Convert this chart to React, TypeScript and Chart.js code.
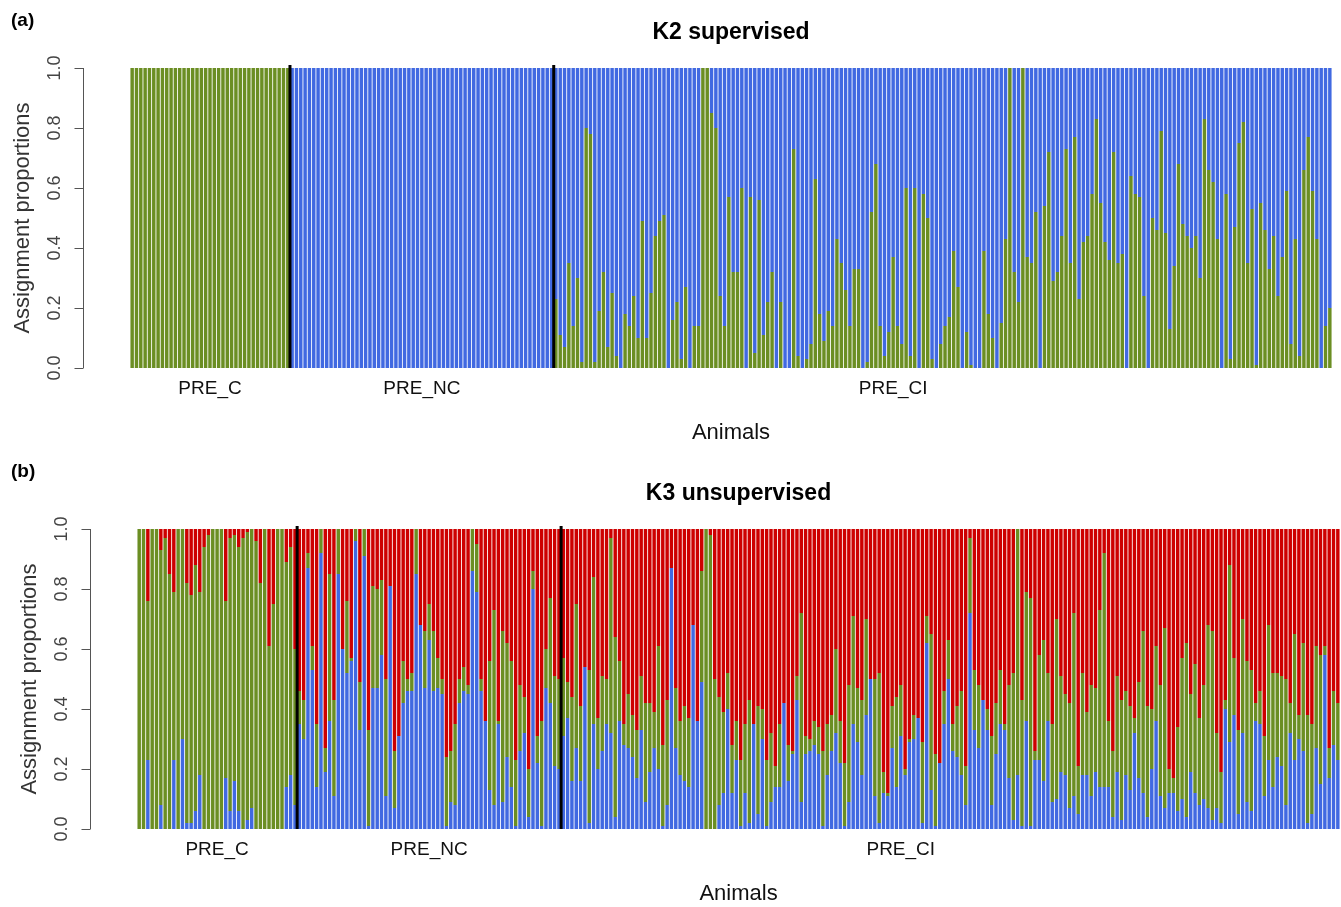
import React, { useEffect, useRef } from "react";
import { Chart, registerables } from "chart.js";

Chart.register(...registerables);

// ---------- data ----------
const groupNames = ["PRE_C", "PRE_NC", "PRE_CI"];
const groupLabelAt = [18, 67, 176]; // animal index under which each group name sits
const yTicks = [0, 0.2, 0.4, 0.6, 0.8, 1.0];

// K2 supervised: green (cluster 1) proportion per animal; blue is the rest
const k2GreenC = [1, 1, 1, 1, 1, 1, 1, 1, 1, 1, 1, 1, 1, 1, 1, 1, 1, 1, 1, 1, 1, 1, 1, 1, 1, 1, 1, 1, 1, 1, 1, 1, 1, 1, 1, 1, 1];
const k2GreenNC = [0, 0, 0, 0, 0, 0, 0, 0, 0, 0, 0, 0, 0, 0, 0, 0, 0, 0, 0, 0, 0, 0, 0, 0, 0, 0, 0, 0, 0, 0, 0, 0, 0, 0, 0, 0, 0, 0, 0, 0, 0, 0, 0, 0, 0, 0, 0, 0, 0, 0, 0, 0, 0, 0, 0, 0, 0, 0, 0, 0, 0];
const k2GreenCI = [
  0.23, 0.11, 0.07, 0.35, 0.14, 0.30, 0.02, 0.80, 0.78, 0.02,
  0.19, 0.32, 0.07, 0.25, 0.04, 0.0, 0.18, 0.14, 0.24, 0.10,
  0.49, 0.10, 0.25, 0.44, 0.49, 0.51, 0.0, 0.16, 0.22, 0.03,
  0.27, 0.0, 0.14, 0.14, 1.0, 1.0, 0.85, 0.80, 0.24, 0.14,
  0.57, 0.32, 0.32, 0.60,
  0.0, 0.57, 0.05, 0.56, 0.11, 0.22, 0.32, 0.0, 0.22, 0.0,
  0.0, 0.73, 0.04, 0.0, 0.03, 0.08, 0.63, 0.18, 0.09, 0.19,
  0.14, 0.43, 0.35, 0.26, 0.14, 0.33, 0.33, 0.0, 0.02, 0.52,
  0.68, 0.14, 0.04, 0.12, 0.37, 0.14, 0.08, 0.60, 0.04, 0.60,
  0.0, 0.58, 0.50, 0.03, 0.0,
  0.08, 0.14, 0.17, 0.39, 0.27, 0.0, 0.12, 0.01, 0.0, 0.0,
  0.39, 0.18, 0.10, 0.0, 0.15, 0.43, 1.0, 0.32, 0.22, 1.0,
  0.37, 0.35, 0.52, 0.0, 0.54, 0.72, 0.29, 0.32, 0.44, 0.73,
  0.35, 0.77, 0.23, 0.42, 0.44, 0.58, 0.83, 0.55, 0.42, 0.36,
  0.72, 0.35, 0.38, 0.0, 0.64,
  0.58, 0.57, 0.24, 0.0, 0.50, 0.46, 0.79, 0.45, 0.13, 0.34,
  0.68, 0.48, 0.44, 0.40, 0.44, 0.30, 0.83, 0.66, 0.62, 0.43,
  0.0, 0.58, 0.03, 0.47, 0.75, 0.82, 0.35, 0.53, 0.01, 0.55,
  0.46, 0.33, 0.44, 0.24, 0.37, 0.59, 0.08, 0.43, 0.04, 0.66,
  0.77, 0.59, 0.43, 0.0, 0.14, 0.20,
];

// K3 unsupervised: blue proportion (bottom of each bar) and red proportion (top); green is between
const k3BlueC = [
  0, 0, 0.23, 0, 0, 0.08, 0, 0, 0.23, 0,
  0.30, 0.02, 0.02, 0.06, 0.18, 0, 0, 0, 0, 0,
  0.17, 0.06, 0.16, 0.06, 0, 0.03, 0.07, 0, 0, 0,
  0, 0, 0, 0, 0.14, 0.18, 0.08,
];
const k3RedC = [
  0, 0, 0.24, 0, 0, 0.07, 0.03, 0.15, 0.21, 0,
  0, 0.18, 0.22, 0.12, 0.21, 0.06, 0.02, 0, 0, 0,
  0.24, 0.03, 0.02, 0.06, 0.03, 0.01, 0, 0.04, 0.18, 0,
  0.39, 0.25, 0, 0, 0.11, 0.06, 0.40,
];
const k3BlueNC = [
  0.35, 0.30, 0.87, 0.53, 0.14, 0.92, 0.19,
  0.36, 0.11, 0.85, 0.60, 0.52, 0.56, 0.96, 0.33, 0.91, 0.01,
  0.47, 0.47, 0.58, 0.11, 0.81, 0.07, 0.31, 0.42, 0.46, 0.46,
  0.85, 0.68, 0.47, 0.63, 0.46, 0.47, 0.45, 0.01, 0.09, 0.08,
  0.42, 0.46, 0.45, 0.86, 0.79, 0.46, 0.36, 0.13, 0.08, 0.35,
  0.09, 0.24, 0.14, 0.01, 0.26,
  0.32, 0.04, 0.80, 0.22, 0.01, 0.47, 0.42, 0.21, 0.20,
];
const k3RedNC = [
  0.54, 0.57, 0.08, 0.39, 0.65, 0, 0.73,
  0.15, 0.57, 0, 0.40, 0.24, 0.43, 0, 0.51, 0, 0.67,
  0.19, 0.20, 0.17, 0.50, 0.19, 0.74, 0.69, 0.44, 0.50, 0.48,
  0, 0.32, 0.34, 0.25, 0.34, 0.43, 0.50, 0.76, 0.74, 0.65,
  0.50, 0.46, 0.52, 0, 0.05, 0.50, 0.64, 0.44, 0.27, 0.64,
  0.34, 0.38, 0.44, 0.77, 0.52,
  0.56, 0.80, 0.14, 0.69, 0.64, 0.40, 0.23, 0.49, 0.50,
];
const k3BlueCI = [
  0.31, 0.37, 0.16, 0.27, 0.16, 0.54, 0.02, 0.35, 0.20, 0.26,
  0.35, 0.32, 0.04, 0.36, 0.28, 0.27, 0.24, 0.17, 0.33, 0.09,
  0.19, 0.27, 0.20, 0.01, 0.08, 0.87, 0.27, 0.18, 0.16, 0.14,
  0.68, 0.36, 0.49, 0, 0, 0,
  0.08, 0.12, 0.40, 0.12, 0.23, 0.01, 0.12, 0.02, 0.35, 0.05,
  0.30, 0.01, 0.09, 0.14, 0.14, 0.42, 0.16, 0.25, 0.43, 0.09,
  0.25, 0.26, 0.28, 0.25, 0.01, 0.18, 0.26, 0.32, 0.22, 0.01,
  0.09, 0.35, 0.29, 0.18, 0.38, 0.50, 0.11, 0.02, 0.12, 0.11,
  0.27, 0.14, 0.31, 0.18, 0.29,
  0.30, 0.37, 0.02, 0.62, 0.13, 0.01, 0.22, 0.35, 0.50, 0.26,
  0.24, 0.18, 0.08, 0.72, 0.33, 0.27, 0.43, 0.33, 0.08, 0.25,
  0.35, 0.33, 0.17, 0.03, 0.18, 0.01, 0.36, 0.01, 0.23, 0.23,
  0.16, 0.36, 0.09, 0.10, 0.19, 0.18, 0.07, 0.11, 0.05, 0.18,
  0.18, 0.11, 0.19, 0.14, 0.14,
  0.14, 0.04, 0.19, 0.03, 0.18, 0.13, 0.32, 0.17, 0.12, 0.04,
  0.20, 0.36, 0.11, 0.07, 0.12, 0.12, 0.06, 0.10, 0.04, 0.19,
  0.12, 0.08, 0.10, 0.07, 0.03, 0.07, 0.02, 0.40, 0.29, 0.38,
  0.05, 0.32, 0.09, 0.06, 0.36, 0.35, 0.11, 0.23, 0.14, 0.24,
  0.21, 0.08, 0.32, 0.23, 0.30, 0.26, 0.02, 0.05, 0.27, 0.15,
  0.58, 0.17, 0.28, 0.23,
];
const k3RedCI = [
  0.43, 0.51, 0.56, 0.25, 0.59, 0.46, 0.47, 0.16, 0.63, 0.49,
  0.50, 0.03, 0.36, 0.44, 0.65, 0.55, 0.62, 0.67, 0.49, 0.58,
  0.58, 0.61, 0.39, 0.72, 0.57, 0.13, 0.53, 0.64, 0.59, 0.63,
  0.32, 0.64, 0.14, 0, 0.02, 0.50,
  0.56, 0.61, 0.48, 0.72, 0.64, 0.77, 0.65, 0.57, 0.65, 0.59,
  0.60, 0.77, 0.68, 0.79, 0.65, 0.58, 0.72, 0.74, 0.49, 0.28,
  0.69, 0.70, 0.64, 0.66, 0.74, 0.65, 0.62, 0.40, 0.64, 0.78,
  0.52, 0.29, 0.53, 0.57, 0.30, 0.50, 0.50, 0.48, 0.81, 0.88,
  0.59, 0.56, 0.52, 0.80, 0.70,
  0.62, 0.63, 0.71, 0.29, 0.35, 0.75, 0.78, 0.54, 0.37, 0.65,
  0.59, 0.54, 0.79, 0.03, 0.47, 0.52, 0.57, 0.60, 0.69, 0.58,
  0.47, 0.65, 0.52, 0.48, 0, 0.57, 0.21, 0.23, 0.74, 0.42,
  0.37, 0.48, 0.65, 0.30, 0.49, 0.55, 0.58, 0.28, 0.79, 0.48,
  0.61, 0.52, 0.53, 0.27, 0.08,
  0.64, 0.74, 0.49, 0.57, 0.54, 0.59, 0.63, 0.51, 0.34, 0.59,
  0.60, 0.39, 0.52, 0.33, 0.80, 0.83, 0.66, 0.43, 0.38, 0.55,
  0.45, 0.63, 0.52, 0.32, 0.34, 0.68, 0.81, 0.57, 0.12, 0.43,
  0.67, 0.30, 0.44, 0.47, 0.58, 0.54, 0.69, 0.32, 0.48, 0.48,
  0.49, 0.50, 0.58, 0.35, 0.62, 0.38, 0.62, 0.65, 0.39, 0.42,
  0.39, 0.73, 0.54, 0.58,
];

// ---------- styling ----------
const GREEN = "#6B8E23";
const BLUE = "#4169E1";
const RED = "#CD0000";
const FONT = "'Liberation Sans', Arial, Helvetica, sans-serif";

const nC = k2GreenC.length;
const nNC = k2GreenNC.length;
const k2Green = [...k2GreenC, ...k2GreenNC, ...k2GreenCI];
const k2Blue = k2Green.map((g) => +(1 - g).toFixed(3));
const k3Blue = [...k3BlueC, ...k3BlueNC, ...k3BlueCI];
const k3Red = [...k3RedC, ...k3RedNC, ...k3RedCI];
const k3Green = k3Blue.map((b, i) => Math.max(0, +(1 - b - k3Red[i]).toFixed(3)));
const N = k2Green.length;
const separators = [nC - 0.5, nC + nNC - 0.5];

type Series = { label: string; values: number[]; color: string };
type PanelSpec = {
  top: number;
  width: number;
  height: number;
  padding: { left: number; right: number; top: number; bottom: number };
  title: string;
  panelLabel: string;
  panelLabelY: number;
  series: Series[];
};

const panels: PanelSpec[] = [
  {
    top: 0,
    width: 1341,
    height: 461,
    padding: { left: 83, right: 9, top: 68, bottom: 93 },
    title: "K2 supervised",
    panelLabel: "(a)",
    panelLabelY: 21,
    series: [
      { label: "Cluster 1", values: k2Green, color: GREEN },
      { label: "Cluster 2", values: k2Blue, color: BLUE },
    ],
  },
  {
    top: 461,
    width: 1341,
    height: 446,
    padding: { left: 90, right: 1, top: 68, bottom: 78 },
    title: "K3 unsupervised",
    panelLabel: "(b)",
    panelLabelY: 11,
    series: [
      { label: "Cluster 1", values: k3Blue, color: BLUE },
      { label: "Cluster 2", values: k3Green, color: GREEN },
      { label: "Cluster 3", values: k3Red, color: RED },
    ],
  },
];

function makeDecor(spec: PanelSpec) {
  return {
    id: "decor",
    afterDraw(chart: any) {
      const ctx = chart.ctx as CanvasRenderingContext2D;
      const { left, top, bottom } = chart.chartArea;
      const ys = chart.scales.y;
      const xs = chart.scales.x;
      ctx.save();
      // y axis line and ticks (R style)
      ctx.strokeStyle = "#555";
      ctx.lineWidth = 1;
      ctx.beginPath();
      const ax = Math.round(left) + 0.5;
      ctx.moveTo(ax, ys.getPixelForValue(0));
      ctx.lineTo(ax, ys.getPixelForValue(1));
      yTicks.forEach((t) => {
        const py = Math.round(ys.getPixelForValue(t)) + 0.5;
        ctx.moveTo(ax - 9, py);
        ctx.lineTo(ax, py);
      });
      ctx.stroke();
      // tick labels (rotated)
      ctx.fillStyle = "#444";
      ctx.font = `18px ${FONT}`;
      ctx.textAlign = "center";
      ctx.textBaseline = "middle";
      yTicks.forEach((t) => {
        ctx.save();
        ctx.translate(left - 28, ys.getPixelForValue(t));
        ctx.rotate(-Math.PI / 2);
        ctx.fillText(t.toFixed(1), 0, 0);
        ctx.restore();
      });
      // y title
      ctx.save();
      ctx.fillStyle = "#333";
      ctx.font = `22px ${FONT}`;
      ctx.translate(left - 60, (ys.getPixelForValue(0) + ys.getPixelForValue(1)) / 2);
      ctx.rotate(-Math.PI / 2);
      ctx.fillText("Assignment proportions", 0, 0);
      ctx.restore();
      // group labels
      ctx.fillStyle = "#111";
      ctx.font = `19px ${FONT}`;
      groupNames.forEach((g, i) => {
        ctx.fillText(g, xs.getPixelForValue(groupLabelAt[i]), bottom + 21);
      });
      const cx = (xs.getPixelForValue(-0.5) + xs.getPixelForValue(N - 0.5)) / 2;
      // x title
      ctx.font = `22px ${FONT}`;
      ctx.fillText("Animals", cx, bottom + 65);
      // chart title
      ctx.fillStyle = "#000";
      ctx.font = `bold 23px ${FONT}`;
      ctx.fillText(spec.title, cx, top - 35);
      // panel label
      ctx.textAlign = "left";
      ctx.font = `bold 19px ${FONT}`;
      ctx.fillText(spec.panelLabel, 11, spec.panelLabelY);
      ctx.restore();
    },
  };
}

function Panel({ spec }: { spec: PanelSpec }) {
  const ref = useRef<HTMLCanvasElement>(null);
  useEffect(() => {
    if (!ref.current) return;
    const barSets = spec.series.map((s) => ({
      type: "bar" as const,
      label: s.label,
      data: s.values.map((v, i) => ({ x: i, y: v })),
      backgroundColor: s.color,
      borderWidth: 0,
      categoryPercentage: 1,
      barPercentage: 0.8,
      order: 1,
    }));
    const sepSets = separators.map((sx, k) => ({
      type: "line" as const,
      label: "sep" + k,
      data: [
        { x: sx, y: 0 },
        { x: sx, y: 1.01 },
      ],
      borderColor: "#000",
      borderWidth: 3,
      pointRadius: 0,
      stack: "sep" + k,
      order: 0,
      clip: 6,
    }));
    const chart = new Chart(ref.current, {
      type: "bar",
      data: { datasets: [...barSets, ...sepSets] as any },
      options: {
        responsive: false,
        maintainAspectRatio: false,
        animation: false,
        devicePixelRatio: 1,
        layout: { padding: spec.padding },
        plugins: { legend: { display: false }, tooltip: { enabled: false }, title: { display: false } },
        scales: {
          x: {
            type: "linear",
            min: -11.37,
            max: N - 0.5,
            offset: false,
            bounds: "data",
            stacked: true,
            display: false,
            grid: { display: false, offset: false },
            ticks: { stepSize: 50 },
          },
          y: { type: "linear", min: 0, max: 1, stacked: true, display: false, grid: { display: false } },
        },
      },
      plugins: [makeDecor(spec)],
    } as any);
    return () => chart.destroy();
  }, [spec]);
  return (
    <canvas
      ref={ref}
      width={spec.width}
      height={spec.height}
      style={{ position: "absolute", left: 0, top: spec.top, width: spec.width, height: spec.height, display: "block" }}
    />
  );
}

export default function App() {
  return (
    <div style={{ position: "absolute", left: 0, top: 0, width: 1341, height: 907, background: "#fff" }}>
      {panels.map((p, i) => (
        <Panel key={i} spec={p} />
      ))}
    </div>
  );
}
